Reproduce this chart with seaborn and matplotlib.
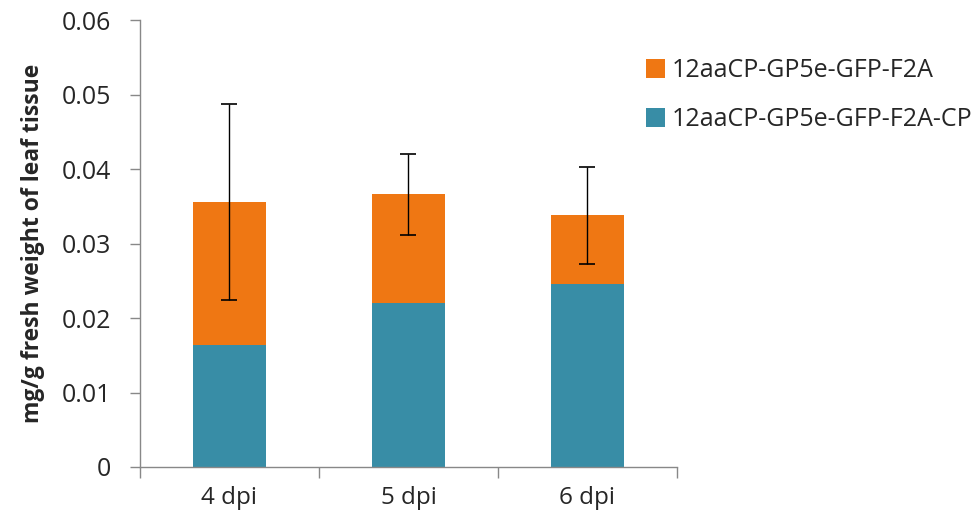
import numpy as np
import pandas as pd
import matplotlib
matplotlib.use("Agg")
import matplotlib.pyplot as plt
import seaborn as sns

# --------------------------------------------------------------
# Data
# --------------------------------------------------------------
days = ["4 dpi", "5 dpi", "6 dpi"]
cp_values = [0.0164, 0.0220, 0.0246]        # 12aaCP-GP5e-GFP-F2A-CP (bottom)
f2a_values = [0.0192, 0.0146, 0.0092]       # 12aaCP-GP5e-GFP-F2A (top)
total_err = [0.0132, 0.0054, 0.0065]

orange = "#EF7713"
teal = "#388DA6"

df = pd.DataFrame({"day": days, "cp": cp_values, "f2a": f2a_values})
df["total"] = df["cp"] + df["f2a"]

sns.set_style("white")
plt.rcParams["font.family"] = ["Open Sans", "DejaVu Sans"]

fig = plt.figure(figsize=(9.79, 5.18), dpi=100)
ax = fig.add_axes([0.143, 0.0985, 0.5485, 0.8625])

# stacked bars: draw the totals first, then the bottom series over them
sns.barplot(data=df, x="day", y="total", color=orange, width=0.41,
            saturation=1, ax=ax, label="12aaCP-GP5e-GFP-F2A", edgecolor="none")
sns.barplot(data=df, x="day", y="cp", color=teal, width=0.41,
            saturation=1, ax=ax, label="12aaCP-GP5e-GFP-F2A-CP", edgecolor="none")

ax.errorbar(np.arange(len(days)), df["total"], yerr=total_err, fmt="none",
            ecolor="black", elinewidth=1, capsize=6, capthick=1.2)

ax.set_ylim(0, 0.06)
ax.set_xlim(-0.5, 2.5)
ax.set_yticks(np.arange(0, 0.061, 0.01))
ax.set_yticklabels(["0", "0.01", "0.02", "0.03", "0.04", "0.05", "0.06"])
ax.tick_params(axis="y", which="major", left=True, length=7, width=1,
               color="#888888", labelsize=18, pad=14)
ax.tick_params(axis="x", which="major", bottom=False, labelsize=17.5, pad=10)
ax.set_xticks([-0.5, 0.5, 1.5, 2.5], minor=True)
ax.tick_params(axis="x", which="minor", bottom=True, length=8, width=1,
               color="#888888")

ax.set_xlabel("")
ax.set_ylabel("mg/g fresh weight of leaf tissue", fontsize=16.5,
              fontweight="bold", labelpad=12)

for side in ["top", "right"]:
    ax.spines[side].set_visible(False)
for side in ["left", "bottom"]:
    ax.spines[side].set_color("#888888")
    ax.spines[side].set_linewidth(1)

ax.legend(loc="upper left", bbox_to_anchor=(0.9, 0.965), frameon=False,
          fontsize=18, handlelength=0.75, handleheight=0.75,
          handletextpad=0.3, labelspacing=0.95)

plt.savefig("out.png", format="png", dpi=100)
